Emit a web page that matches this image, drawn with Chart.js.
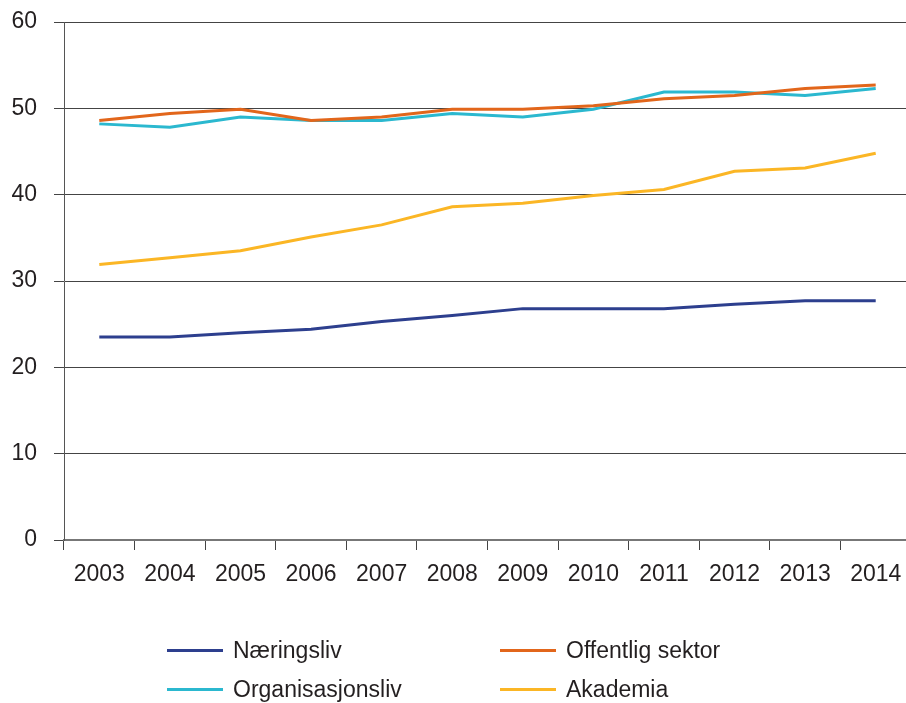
<!DOCTYPE html>
<html>
<head>
<meta charset="utf-8">
<script src="https://cdn.jsdelivr.net/npm/chart.js@4/dist/chart.umd.min.js"></script>
<style>
  html, body { margin: 0; padding: 0; background: #fff; }
  #wrap { position: relative; width: 906px; height: 703px; overflow: hidden; }
  #box { position: absolute; left: 0; top: 0; width: 911px; height: 600px; }
  #legend { position: absolute; left: 0; top: 0; width: 906px; height: 703px; pointer-events: none;
            font-family: "Liberation Sans", Arial, sans-serif; font-size: 23px; color: #231f20; }
  .item { position: absolute; display: flex; align-items: center; white-space: nowrap; }
  .sw { width: 56px; height: 3px; margin-right: 10px; }
</style>
</head>
<body>
<div id="wrap">
  <div id="box"><canvas id="c"></canvas></div>
  <div id="legend"></div>
</div>
<script>
const years = ["2003","2004","2005","2006","2007","2008","2009","2010","2011","2012","2013","2014"];
const naeringsliv      = [23.5, 23.5, 24.0, 24.4, 25.3, 26.0, 26.8, 26.8, 26.8, 27.3, 27.7, 27.7];
const offentligSektor  = [48.6, 49.4, 49.9, 48.6, 49.0, 49.9, 49.9, 50.3, 51.1, 51.5, 52.3, 52.7];
const organisasjonsliv = [48.2, 47.8, 49.0, 48.6, 48.6, 49.4, 49.0, 49.9, 51.9, 51.9, 51.5, 52.3];
const akademia         = [31.9, 32.7, 33.5, 35.1, 36.5, 38.6, 39.0, 39.9, 40.6, 42.7, 43.1, 44.8];
const seriesNames = ["Næringsliv", "Offentlig sektor", "Organisasjonsliv", "Akademia"];
const yTicks = [0, 10, 20, 30, 40, 50, 60];

const colors = ["#2d3f8e", "#e2661b", "#2bb8cf", "#fbb625"];
const seriesData = [naeringsliv, offentligSektor, organisasjonsliv, akademia];
const FONT = "'Liberation Sans', Arial, sans-serif";
const TXT = "#231f20";

const datasets = seriesNames.map((n, i) => ({
  label: n,
  data: seriesData[i],
  borderColor: colors[i],
  backgroundColor: colors[i],
  borderWidth: 3,
  pointRadius: 0,
  tension: 0,
  fill: false
}));

new Chart(document.getElementById('c'), {
  type: 'line',
  data: { labels: years, datasets },
  options: {
    responsive: true,
    maintainAspectRatio: false,
    animation: false,
    layout: { padding: { left: 0, right: 0, top: 22, bottom: 0 } },
    plugins: { legend: { display: false }, tooltip: { enabled: false } },
    scales: {
      x: {
        offset: true,
        afterFit: (s) => { s.height = 60; s.paddingLeft = 0; s.paddingRight = 0; },
        grid: { display: true, offset: true, drawOnChartArea: false, drawTicks: true, tickLength: 10, color: "#444", lineWidth: 1 },
        border: { display: true, color: "#777", width: 2 },
        ticks: { color: TXT, font: { family: FONT, size: 23 }, padding: 11, maxRotation: 0, autoSkip: false }
      },
      y: {
        min: 0, max: 60,
        afterFit: (s) => { s.width = 64; s.paddingTop = 0; s.paddingBottom = 0; },
        afterBuildTicks: (axis) => { axis.ticks = yTicks.map(v => ({ value: v })); },
        grid: { color: "#444", lineWidth: 1, tickLength: 10, drawTicks: true },
        border: { display: true, color: "#555", width: 1 },
        ticks: { color: TXT, font: { family: FONT, size: 23 }, padding: 17 }
      }
    }
  }
});

const leg = document.getElementById('legend');
const pos = [[167, 650], [500, 650], [167, 689], [500, 689]];
seriesNames.forEach((n, i) => {
  const it = document.createElement('div');
  it.className = 'item';
  it.style.left = pos[i][0] + 'px';
  it.style.top = (pos[i][1] - 14) + 'px';
  it.style.height = '28px';
  const sw = document.createElement('span');
  sw.className = 'sw';
  sw.style.background = colors[i];
  const t = document.createElement('span');
  t.textContent = n;
  it.appendChild(sw);
  it.appendChild(t);
  leg.appendChild(it);
});
</script>
</body>
</html>
